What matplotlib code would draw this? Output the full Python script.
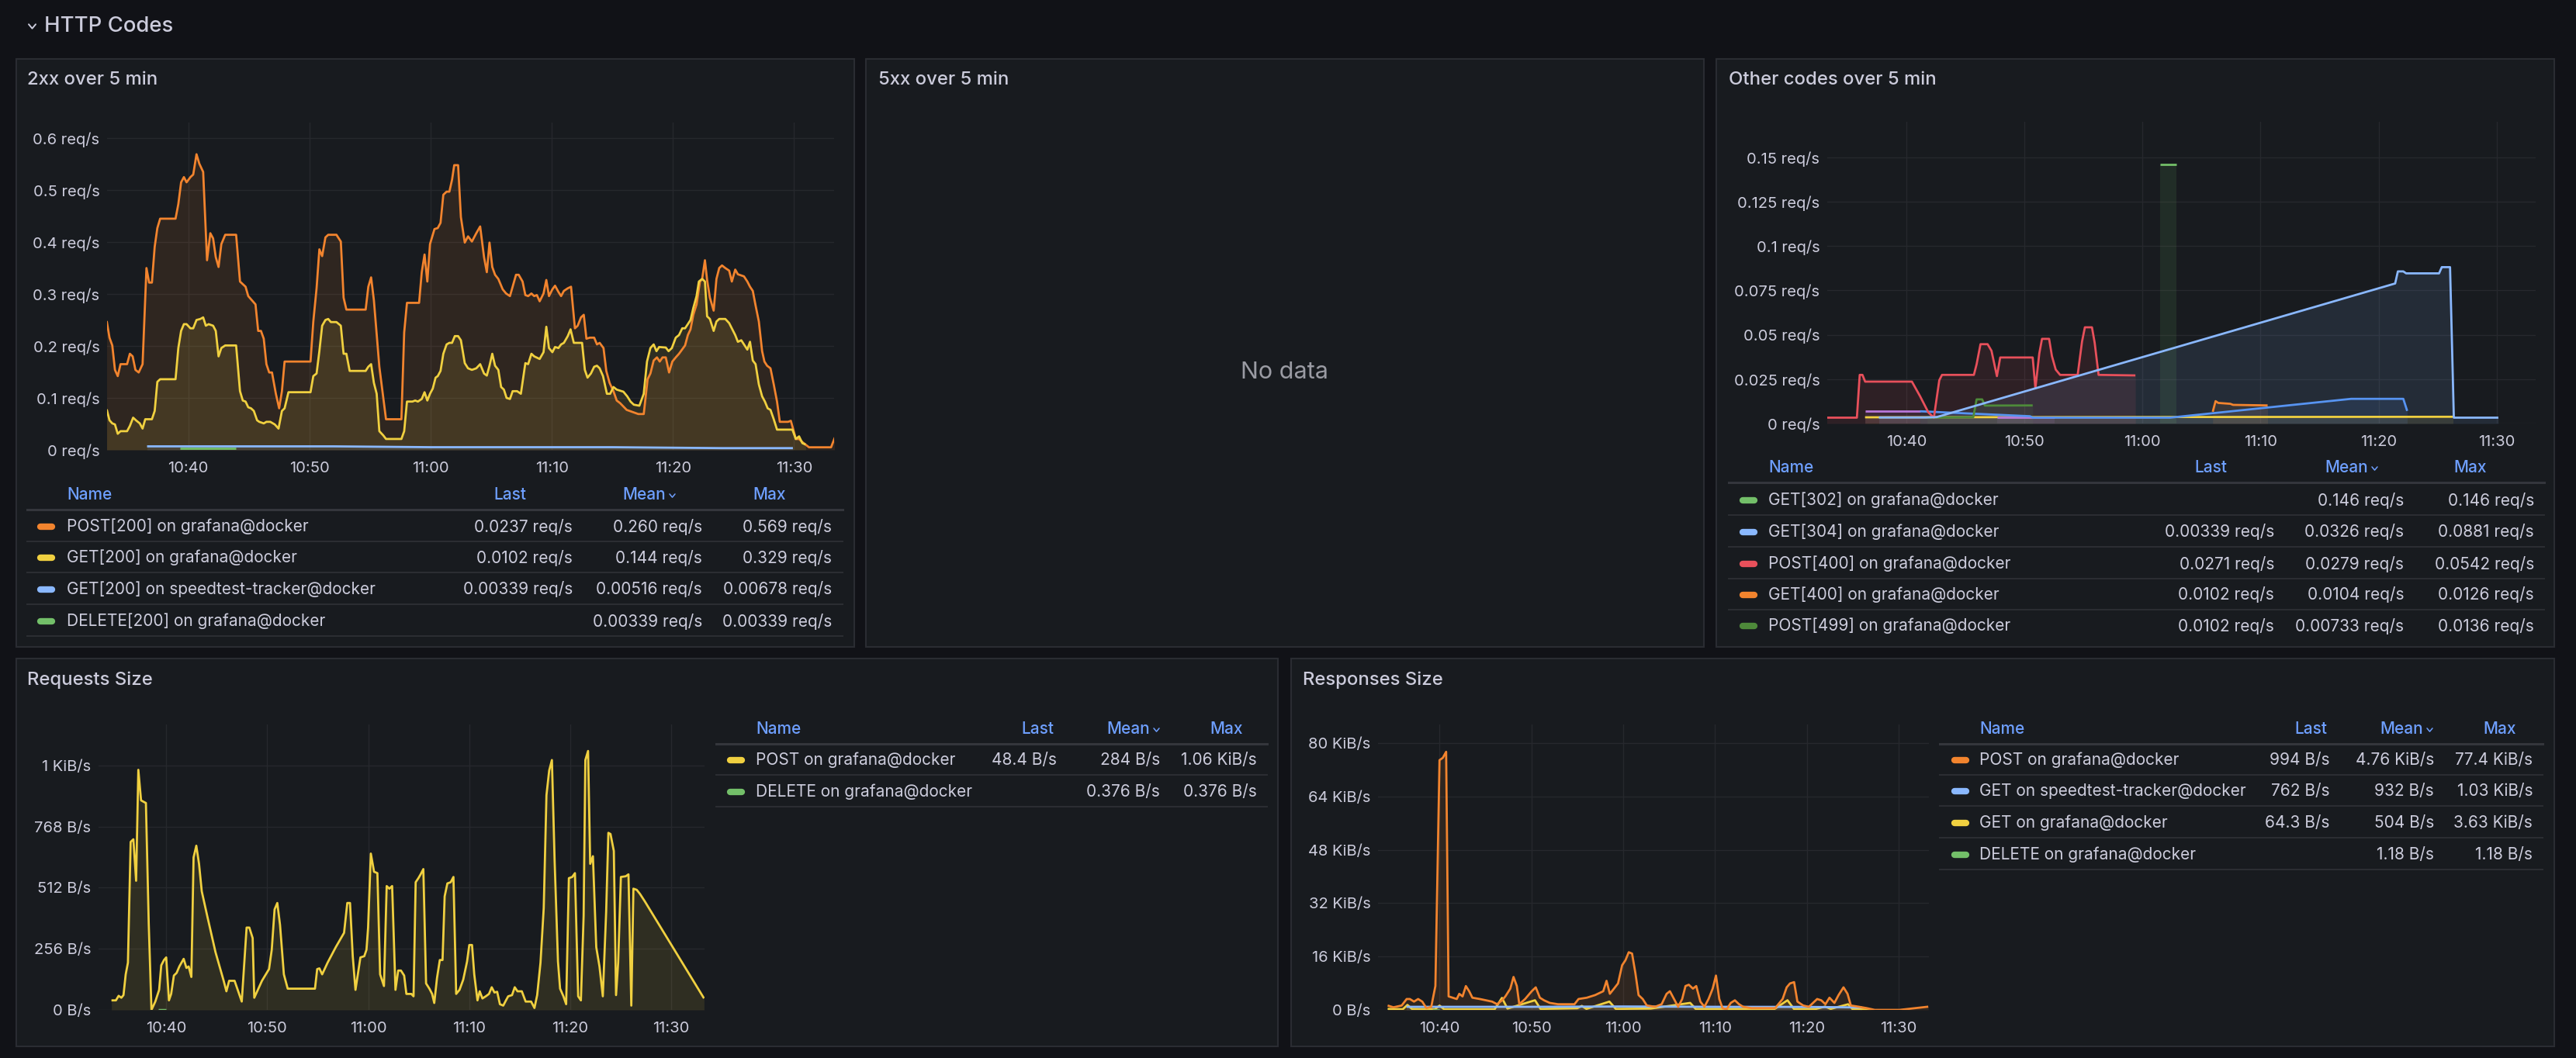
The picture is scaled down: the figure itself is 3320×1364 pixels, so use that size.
import numpy as np
import matplotlib
matplotlib.use("Agg")
import matplotlib.pyplot as plt
import matplotlib.lines as mlines
import matplotlib.patches as mpatches

plt.rcParams['font.family'] = ['Inter', 'DejaVu Sans']

# ---------------- data (time = minutes after 10:00) ----------------
XTICKS = [40, 50, 60, 70, 80, 90]
XLABELS = ["10:40", "10:50", "11:00", "11:10", "11:20", "11:30"]
XRANGE = (33.3, 93.3)

# 2xx over 5 min (req/s)
post200 = [(33.27,.248),(33.5,.216),(33.73,.201),(33.95,.154),(34.18,.142),(34.41,.165),(34.95,.165),(35.18,.185),
           (35.41,.180),(35.64,.154),(35.91,.149),(36.23,.165),(36.55,.350),(36.77,.322),(37.0,.322),(37.23,.391),
           (37.45,.427),(37.68,.445),(38.95,.445),(39.18,.473),(39.41,.515),(39.64,.525),(39.86,.515),(40.18,.525),
           (40.41,.530),(40.68,.569),(40.91,.551),(41.23,.535),(41.55,.365),(41.82,.417),(42.05,.407),(42.27,.371),
           (42.5,.352),(42.73,.396),(43.05,.414),(43.95,.414),(44.27,.324),(44.73,.314),(44.95,.296),(45.32,.286),
           (45.55,.280),(45.77,.229),(46.0,.229),(46.23,.214),(46.45,.165),(46.68,.149),(46.91,.149),(47.23,.108),
           (47.5,.080),(47.73,.113),(47.95,.170),(50.09,.170),(50.32,.247),(50.59,.311),(50.82,.386),(51.05,.373),
           (51.32,.409),(51.55,.414),(52.23,.414),(52.59,.401),(52.82,.293),(53.05,.270),(54.64,.270),(54.86,.314),
           (55.09,.332),(55.32,.288),(55.77,.160),(56.32,.059),(57.59,.059),(57.82,.226),(58.05,.283),(59.05,.283),
           (59.27,.342),(59.5,.376),(59.73,.324),(59.95,.396),(60.32,.425),(60.59,.427),(60.82,.437),(61.05,.491),
           (61.32,.497),(61.55,.497),(61.77,.520),(61.95,.548),(62.27,.548),(62.5,.448),(62.82,.399),(63.09,.411),
           (63.41,.401),(63.77,.417),(64.09,.430),(64.41,.371),(64.64,.342),(64.86,.399),(65.09,.352),(65.32,.337),
           (65.59,.329),(65.95,.309),(66.23,.301),(66.55,.296),(66.77,.314),(67.05,.337),(67.27,.337),(67.59,.324),
           (67.82,.298),(68.05,.296),(68.32,.301),(68.55,.296),(68.77,.298),(69.0,.286),(69.32,.301),(69.55,.327),
           (69.77,.296),(70.05,.309),(70.27,.316),(70.55,.304),(70.77,.296),(71.0,.306),(71.32,.311),(71.59,.314),
           (71.91,.234),(72.14,.239),(72.41,.255),(72.64,.260),(72.86,.214),(73.14,.216),(73.5,.216),(73.73,.203),
           (73.95,.206),(74.27,.196),(74.5,.152),(74.77,.129),(75.09,.113),(75.36,.095),(75.64,.090),(76.18,.077),
           (76.77,.072),(77.14,.069),(77.59,.069),(77.91,.136),(78.14,.147),(78.41,.172),(78.68,.178),(78.91,.170),
           (79.14,.178),(79.41,.178),(79.68,.149),(79.95,.170),(80.23,.178),(80.5,.185),(81.0,.201),(81.23,.221),
           (81.45,.232),(81.68,.260),(81.95,.280),(82.23,.324),(82.41,.329),(82.64,.365),(82.82,.327),(83.05,.293),
           (83.36,.268),(83.59,.329),(83.82,.350),(84.05,.355),(84.32,.350),(84.64,.345),(84.86,.324),(85.14,.347),
           (85.36,.338),(85.86,.334),(86.14,.324),(86.36,.314),(86.59,.306),(86.82,.278),(87.09,.247),(87.36,.190),
           (87.55,.170),(87.77,.162),(88.05,.157),(88.32,.126),(88.59,.093),(88.82,.054),(89.5,.054),(89.73,.056),
           (89.91,.041),(90.14,.021),(90.41,.021),(90.68,.015),(90.95,.010),(91.23,.005),(93.05,.005),(93.36,.0237)]
get200 = [(33.27,.078),(33.5,.057),(33.73,.051),(33.95,.049),(34.18,.031),(34.41,.036),(34.95,.036),(35.18,.046),
          (35.45,.062),(35.68,.057),(36.0,.051),(36.23,.041),(36.45,.059),(37.0,.059),(37.23,.075),(37.45,.131),
          (37.68,.136),(38.95,.136),(39.18,.196),(39.41,.229),(39.64,.242),(39.86,.242),(40.18,.234),(40.41,.234),
          (40.68,.250),(41.0,.252),(41.23,.255),(41.45,.239),(41.68,.242),(42.05,.239),(42.27,.229),(42.5,.180),
          (42.73,.196),(43.05,.201),(43.95,.201),(44.27,.113),(44.5,.095),(44.73,.093),(44.95,.082),(45.18,.080),
          (45.41,.075),(45.68,.057),(45.86,.054),(46.23,.051),(46.45,.054),(46.77,.054),(47.14,.049),(47.45,.041),
          (47.73,.075),(47.95,.080),(48.27,.111),(50.09,.111),(50.32,.142),(50.59,.147),(50.82,.190),(51.05,.239),
          (51.32,.250),(51.55,.252),(51.77,.246),(52.23,.246),(52.59,.239),(52.82,.185),(53.05,.185),(53.32,.152),
          (54.64,.152),(54.86,.160),(55.09,.165),(55.32,.129),(55.55,.108),(55.77,.036),(56.09,.028),(56.32,.021),
          (57.59,.021),(57.82,.036),(58.05,.093),(58.5,.093),(58.73,.095),(58.95,.093),(59.27,.098),(59.5,.111),
          (59.73,.095),(59.95,.108),(60.18,.118),(60.41,.139),(60.59,.142),(60.82,.152),(61.05,.185),(61.32,.203),
          (61.55,.206),(61.77,.206),(62.0,.219),(62.27,.219),(62.5,.211),(62.82,.167),(63.09,.157),(63.41,.154),
          (63.77,.157),(64.09,.165),(64.41,.147),(64.64,.143),(64.86,.162),(65.09,.185),(65.32,.162),(65.59,.154),
          (65.82,.121),(66.05,.116),(66.27,.100),(66.55,.098),(66.77,.113),(67.14,.113),(67.45,.108),(67.82,.167),
          (68.05,.165),(68.32,.185),(68.55,.180),(69.0,.175),(69.32,.188),(69.55,.237),(69.77,.196),(70.05,.188),
          (70.27,.198),(70.55,.196),(70.77,.203),(71.0,.206),(71.32,.219),(71.55,.232),(71.82,.206),(72.5,.206),
          (72.73,.154),(72.95,.139),(73.23,.147),(73.5,.160),(73.73,.162),(73.95,.157),(74.23,.142),(74.55,.108),
          (74.82,.108),(75.09,.121),(75.36,.116),(75.91,.112),(76.23,.103),(76.5,.093),(76.77,.087),(77.23,.085),
          (77.59,.108),(77.86,.170),(78.14,.196),(78.41,.203),(78.64,.190),(78.86,.198),(79.41,.197),(79.64,.190),
          (79.91,.196),(80.23,.216),(80.5,.221),(80.77,.234),(81.0,.234),(81.23,.242),(81.45,.250),(81.68,.273),
          (81.95,.296),(82.14,.324),(82.41,.329),(82.64,.324),(82.82,.257),(83.05,.252),(83.36,.229),(83.59,.247),
          (83.82,.252),(84.32,.252),(84.64,.244),(84.86,.234),(85.14,.221),(85.36,.208),(85.64,.211),(85.86,.203),
          (86.14,.193),(86.36,.208),(86.59,.172),(86.82,.165),(87.09,.126),(87.36,.103),(87.59,.093),(87.82,.080),
          (88.05,.077),(88.32,.059),(88.59,.039),(89.86,.039),(90.14,.021),(90.41,.026),(90.68,.013),(90.95,.0102)]
get200_speedtest = [(36.6,.0068),(52.0,.0068),(60.0,.0052),(75.0,.0052),(84.0,.0034),(89.9,.0034)]
delete200 = [(39.3,.0034),(43.95,.0034)]

# Other codes over 5 min (req/s)
get302 = [(61.49,.146),(62.88,.146)]
get304 = [(37.67,.0034),(41.63,.0034),(42.56,.0036),(81.40,.0789),(81.63,.0857),(82.09,.0857),(82.33,.0846),
          (85.12,.0846),(85.35,.0881),(86.05,.0881),(86.37,.0033),(90.14,.0033)]
post400 = [(33.26,.0033),(35.81,.0033),(36.05,.0274),(36.28,.0274),(36.51,.0236),(40.47,.0236),(41.16,.0154),
           (41.86,.0063),(42.33,.0033),(42.79,.0244),(43.02,.0274),(45.72,.0274),(45.95,.0334),(46.28,.0447),
           (46.88,.0447),(47.21,.0410),(47.67,.0267),(47.95,.0372),(50.70,.0372),(50.93,.0199),(51.26,.0395),
           (51.49,.0477),(52.09,.0477),(52.33,.0380),(52.65,.0304),(53.02,.0274),(54.51,.0274),(54.88,.0462),
           (55.12,.0542),(55.72,.0542),(55.95,.0455),(56.28,.0274),(59.40,.0271)]
get400 = [(65.95,.0066),(66.19,.0126),(66.42,.0116),(67.44,.0111),(67.67,.0105),(70.6,.0102)]
post499 = [(41.77,.0033),(45.67,.0036),(45.95,.0136),(46.42,.0136),(46.65,.0101),(50.70,.0102)]
other_yellow = [(36.5,.0035),(86.3,.0038)]
other_purple_a = [(36.5,.0069),(41.2,.0069)]
other_purple_b = [(47.7,.0033),(52.56,.0033)]
other_blue = [(41.16,.0069),(50.47,.0041),(50.7,.0033),(62.33,.0033),(77.67,.0139),(82.09,.0139),(82.42,.0071)]

# Requests size (B/s)
req_post = [(34.58,40),(35.02,40),(35.29,59),(35.56,51),(35.77,62),(35.99,149),(36.21,198),(36.48,704),(36.75,715),
            (37.02,541),(37.24,1006),(37.51,878),(37.72,873),(37.99,867),(38.27,361),(38.54,0),(38.92,35),(39.30,84),
            (39.51,187),(39.78,209),(40.0,220),(40.27,40),(40.49,67),(40.76,144),(41.03,155),(41.30,182),(41.73,214),
            (42.0,176),(42.22,182),(42.49,138),(42.71,639),(42.98,688),(43.25,612),(43.52,497),(44.06,394),(44.88,242),
            (45.69,122),(45.96,78),(46.23,122),(46.77,122),(47.04,89),(47.48,35),(47.96,345),(48.23,345),(48.56,301),
            (48.72,51),(49.48,122),(50.18,171),(50.45,252),(50.73,421),(51.0,448),(51.27,356),(51.65,149),(52.03,89),
            (54.73,89),(54.95,171),(55.17,174),(55.44,149),(55.98,198),(56.79,263),(57.61,323),(57.93,448),(58.20,448),
            (58.47,225),(58.74,84),(59.23,220),(59.61,225),(59.83,252),(59.99,345),(60.26,655),(60.58,579),(60.91,573),
            (61.18,149),(61.56,100),(61.83,519),(62.10,508),(62.37,519),(62.70,84),(62.97,165),(63.24,165),(63.56,144),
            (63.78,67),(64.27,67),(64.49,57),(64.70,535),(64.97,552),(65.19,568),(65.46,590),(65.73,111),(66.06,89),
            (66.33,67),(66.54,29),(66.81,133),(67.09,209),(67.36,209),(67.57,476),(67.84,530),(68.17,535),(68.44,557),
            (68.71,67),(69.04,84),(69.41,127),(69.79,203),(70.01,272),(70.28,272),(70.50,149),(70.82,40),(71.04,78),
            (71.31,48),(71.64,57),(71.96,67),(72.23,95),(72.50,73),(72.77,76),(73.04,24),(73.37,18),(73.64,40),
            (73.86,57),(74.24,62),(74.51,95),(74.78,78),(75.21,78),(75.59,35),(76.13,35),(76.46,8),(76.73,62),
            (77.06,198),(77.38,427),(77.65,900),(77.92,1003),(78.19,1047),(78.46,622),(78.79,203),(79.0,89),(79.33,57),
            (79.60,24),(79.87,552),(80.20,557),(80.47,573),(80.79,57),(81.06,40),(81.33,394),(81.50,1047),(81.77,1085),
            (81.98,612),(82.25,644),(82.58,263),(82.90,182),(83.23,57),(83.56,410),(83.78,742),(83.99,737),(84.32,666),
            (84.54,62),(84.75,198),(85.02,557),(85.50,560),(85.77,568),(86.05,18),(86.26,508),(86.59,503),(86.91,486),
            (87.40,454),(93.25,48.4)]
req_delete = [(39.2,0.376),(40.0,0.376)]

# Responses size (KiB/s)
resp_post = [(34.35,1.32),(34.98,0.78),(35.88,1.32),(36.42,3.27),(36.77,3.27),(37.22,2.49),(37.67,3.27),(38.12,2.49),
             (38.57,0.54),(39.10,0.93),(39.55,7.16),(40.0,74.9),(40.36,75.6),(40.72,77.4),(40.99,4.05),(41.43,3.66),
             (41.88,3.27),(42.15,4.82),(42.51,4.05),(42.87,7.16),(43.23,5.60),(43.58,3.66),(44.39,3.27),(45.73,2.49),
             (46.27,1.71),(46.81,2.88),(47.17,4.05),(47.71,6.38),(48.06,9.88),(48.42,7.16),(48.69,1.71),(49.32,3.27),
             (50.04,5.60),(50.48,6.77),(50.93,3.66),(51.38,2.88),(52.01,2.10),(52.90,1.71),(54.70,1.71),(55.14,3.27),
             (56.04,3.66),(56.94,4.44),(57.83,5.60),(58.19,8.72),(58.55,4.82),(59.0,6.38),(59.44,7.94),(59.89,13.4),
             (60.25,14.9),(60.61,17.3),(60.97,16.9),(61.33,11.1),(61.68,4.44),(62.13,3.27),(62.58,1.32),(63.48,0.93),
             (64.19,1.71),(64.73,4.82),(65.09,5.60),(65.54,3.27),(65.99,0.93),(66.43,3.27),(66.79,7.16),(67.15,7.55),
             (67.60,6.38),(67.96,7.16),(68.41,2.49),(68.85,0.93),(69.30,3.27),(69.75,6.38),(70.11,10.3),(70.47,3.27),
             (70.82,0.54),(71.27,0.16),(71.72,2.10),(72.17,2.88),(72.62,1.71),(73.07,0.93),(73.96,0.54),(76.56,0.54),
             (77.37,3.27),(77.81,6.77),(78.17,7.94),(78.62,8.33),(78.98,2.49),(79.61,1.32),(80.23,0.93),(81.13,3.27),
             (81.58,2.88),(82.03,1.71),(82.47,3.66),(83.01,2.10),(83.46,4.44),(84.0,6.77),(84.44,4.82),(84.80,1.32),
             (85.70,0.93),(86.51,0.54),(87.40,0.0),(90.09,0.0),(93.23,0.97)]
resp_get_speedtest = [(36.4,0.93),(50.0,0.93),(60.0,1.03),(70.0,0.93),(80.0,0.90),(86.0,0.74)]
resp_get = [(34.35,0.3),(36.0,0.2),(36.5,1.5),(37.0,0.3),(39.5,0.2),(40.0,1.3),(40.5,0.2),(46.0,0.2),(46.8,3.6),
            (47.4,0.4),(50.4,2.9),(51.0,0.3),(55.0,0.5),(55.5,1.2),(56.0,0.3),(58.5,2.5),(59.2,0.3),(63.0,0.4),
            (67.3,2.1),(67.9,0.3),(76.5,0.3),(77.9,2.9),(78.6,0.3),(81.0,0.3),(82.0,1.0),(82.6,0.3),(84.5,1.7),
            (85.0,0.2),(87.0,0.06)]
resp_delete = [(39.2,0.0012),(40.0,0.0012)]

# legend tables
rows_2xx = [("POST[200] on grafana@docker", "0.0237 req/s", "0.260 req/s", "0.569 req/s"),
            ("GET[200] on grafana@docker", "0.0102 req/s", "0.144 req/s", "0.329 req/s"),
            ("GET[200] on speedtest-tracker@docker", "0.00339 req/s", "0.00516 req/s", "0.00678 req/s"),
            ("DELETE[200] on grafana@docker", "", "0.00339 req/s", "0.00339 req/s")]
rows_other = [("GET[302] on grafana@docker", "", "0.146 req/s", "0.146 req/s"),
              ("GET[304] on grafana@docker", "0.00339 req/s", "0.0326 req/s", "0.0881 req/s"),
              ("POST[400] on grafana@docker", "0.0271 req/s", "0.0279 req/s", "0.0542 req/s"),
              ("GET[400] on grafana@docker", "0.0102 req/s", "0.0104 req/s", "0.0126 req/s"),
              ("POST[499] on grafana@docker", "0.0102 req/s", "0.00733 req/s", "0.0136 req/s")]
rows_req = [("POST on grafana@docker", "48.4 B/s", "284 B/s", "1.06 KiB/s"),
            ("DELETE on grafana@docker", "", "0.376 B/s", "0.376 B/s")]
rows_resp = [("POST on grafana@docker", "994 B/s", "4.76 KiB/s", "77.4 KiB/s"),
             ("GET on speedtest-tracker@docker", "762 B/s", "932 B/s", "1.03 KiB/s"),
             ("GET on grafana@docker", "64.3 B/s", "504 B/s", "3.63 KiB/s"),
             ("DELETE on grafana@docker", "", "1.18 B/s", "1.18 B/s")]

# ---------------- style ----------------
BG = '#111217'
PANEL = '#181b1f'
BORDER = '#2a2c32'
TEXT = '#ccccdc'
HEAD = '#6e9fff'
GRID = '#26282d'
ORANGE = '#f2842e'
YELLOW = '#f0d040'
LBLUE = '#8ab8ff'
GREEN = '#73bf69'
RED = '#e8505b'
DGREEN = '#4e8a3a'
BLUE = '#5794f2'
PURPLE = '#b877d9'

W, H = 3320, 1364
fig = plt.figure(figsize=(W / 100, H / 100), dpi=100, facecolor=BG)


def fx(x):
    return x / W


def fy(y):
    return 1 - y / H


def hline(x0, x1, y, color, lw):
    fig.add_artist(mlines.Line2D([fx(x0), fx(x1)], [fy(y), fy(y)], color=color, lw=lw))


def chevron(x, y, size, color, lw):
    fig.add_artist(mlines.Line2D([fx(x), fx(x + size), fx(x + 2 * size)],
                                 [fy(y - size * 0.6), fy(y + size * 0.6), fy(y - size * 0.6)],
                                 color=color, lw=lw, solid_capstyle='round', solid_joinstyle='round'))


def panel(x0, y0, x1, y1, title, tx, ty):
    fig.add_artist(mpatches.Rectangle((fx(x0), fy(y1)), (x1 - x0) / W, (y1 - y0) / H,
                                      transform=fig.transFigure, facecolor=PANEL, edgecolor=BORDER,
                                      lw=1.5, zorder=-5))
    fig.text(fx(tx), fy(ty), title, color=TEXT, fontsize=17.2, fontweight='medium', va='center')


def chart(x0, y0, x1, y1, ylim, yticks, ylabels):
    ax = fig.add_axes([fx(x0), fy(y1), (x1 - x0) / W, (y1 - y0) / H])
    ax.set_facecolor('none')
    ax.set_xlim(*XRANGE)
    ax.set_ylim(*ylim)
    ax.set_xticks(XTICKS, XLABELS)
    ax.set_yticks(yticks, ylabels)
    ax.grid(True, color=GRID, lw=1.0)
    ax.set_axisbelow(True)
    for s in ax.spines.values():
        s.set_visible(False)
    ax.tick_params(length=0, labelcolor=TEXT, labelsize=14.5)
    ax.tick_params(axis='x', pad=11)
    ax.tick_params(axis='y', pad=7)
    return ax


def series(ax, pts, color, lw=2.0, alpha=0.11):
    t = [p[0] for p in pts]
    v = [p[1] for p in pts]
    ax.fill_between(t, v, 0, color=color, alpha=alpha, lw=0)
    ax.plot(t, v, color=color, lw=lw, solid_joinstyle='round', solid_capstyle='butt')


def table(x0, x1, sw_x, name_x, hdr_y, hdr_r, val_r, row_ys, rows, colors, last_line=True):
    fig.text(fx(name_x), fy(hdr_y), "Name", color=HEAD, fontsize=15, fontweight='medium', va='center')
    for lab, xr in zip(("Last", "Mean", "Max"), hdr_r):
        fig.text(fx(xr), fy(hdr_y), lab, color=HEAD, fontsize=15, fontweight='medium', va='center', ha='right')
    chevron(hdr_r[1] + 5, hdr_y + 1, 3.5, HEAD, 1.1)
    hline(x0, x1, hdr_y + 19, '#34363c', 2.2)
    for i, (row, c, y) in enumerate(zip(rows, colors, row_ys)):
        fig.add_artist(mlines.Line2D([fx(sw_x + 4), fx(sw_x + 19)], [fy(y), fy(y)], color=c, lw=6,
                                     solid_capstyle='round'))
        fig.text(fx(name_x), fy(y), row[0], color=TEXT, fontsize=15, va='center')
        for s, xr in zip(row[1:], val_r):
            if s:
                fig.text(fx(xr), fy(y), s, color=TEXT, fontsize=15, va='center', ha='right')
        if last_line or i < len(rows) - 1:
            hline(x0, x1, y + 19, '#2c2e33', 1.4)


# ---------------- header ----------------
chevron(37, 34, 4.5, TEXT, 1.4)
fig.text(fx(57), fy(34), "HTTP Codes", color=TEXT, fontsize=19.8, fontweight='medium', va='center')

# ---------------- panels ----------------
panel(21, 76, 1101, 834, "2xx over 5 min", 35, 103)
panel(1116, 76, 2196, 834, "5xx over 5 min", 1132, 103)
panel(2212, 76, 3292, 834, "Other codes over 5 min", 2228, 103)
panel(21, 849, 1647, 1349, "Requests Size", 35, 877)
panel(1664, 849, 3292, 1349, "Responses Size", 1679, 877)

# 2xx
ax1 = chart(138, 158, 1075, 580, (0, 0.63), [0, .1, .2, .3, .4, .5, .6],
            ["0 req/s", "0.1 req/s", "0.2 req/s", "0.3 req/s", "0.4 req/s", "0.5 req/s", "0.6 req/s"])
series(ax1, post200, ORANGE)
series(ax1, get200, YELLOW)
series(ax1, get200_speedtest, LBLUE)
series(ax1, delete200, GREEN)
table(35, 1086, 48, 86, 638, (678, 858, 1013), (738, 905, 1072), [679, 719, 760, 801],
      rows_2xx, [ORANGE, YELLOW, LBLUE, GREEN])

# 5xx
fig.text(fx(1655), fy(480), "No data", color='#9a9ba3', fontsize=22, ha='center', va='center')

# other codes
ax3 = chart(2355, 157, 3268, 546, (0, 0.17), [0, .025, .05, .075, .1, .125, .15],
            ["0 req/s", "0.025 req/s", "0.05 req/s", "0.075 req/s", "0.1 req/s", "0.125 req/s", "0.15 req/s"])
series(ax3, other_yellow, YELLOW)
series(ax3, other_purple_a, PURPLE)
series(ax3, other_purple_b, PURPLE)
series(ax3, other_blue, BLUE)
series(ax3, post499, DGREEN)
series(ax3, get400, ORANGE)
series(ax3, post400, RED)
series(ax3, get304, LBLUE)
series(ax3, get302, GREEN)
table(2228, 3279, 2242, 2279, 603, (2870, 3052, 3205), (2931, 3098, 3266), [645, 686, 727, 767, 807],
      rows_other, [GREEN, LBLUE, RED, ORANGE, DGREEN], last_line=False)

# requests size
ax4 = chart(127, 934, 908, 1302, (0, 1196), [0, 256, 512, 768, 1024],
            ["0 B/s", "256 B/s", "512 B/s", "768 B/s", "1 KiB/s"])
series(ax4, req_post, YELLOW)
series(ax4, req_delete, GREEN, lw=2.5)
table(923, 1633, 937, 974, 940, (1358, 1482, 1602), (1362, 1495, 1620), [980, 1021],
      rows_req, [YELLOW, GREEN])

# responses size
ax5 = chart(1776, 934, 2486, 1302, (0, 85.6), [0, 16, 32, 48, 64, 80],
            ["0 B/s", "16 KiB/s", "32 KiB/s", "48 KiB/s", "64 KiB/s", "80 KiB/s"])
series(ax5, resp_get, YELLOW)
series(ax5, resp_get_speedtest, LBLUE)
series(ax5, resp_delete, GREEN)
series(ax5, resp_post, ORANGE)
table(2500, 3277, 2515, 2551, 940, (2999, 3123, 3243), (3002, 3137, 3264), [980, 1020, 1061, 1102],
      rows_resp, [ORANGE, LBLUE, YELLOW, GREEN])

fig.savefig("out.png", dpi=100, facecolor=BG)
